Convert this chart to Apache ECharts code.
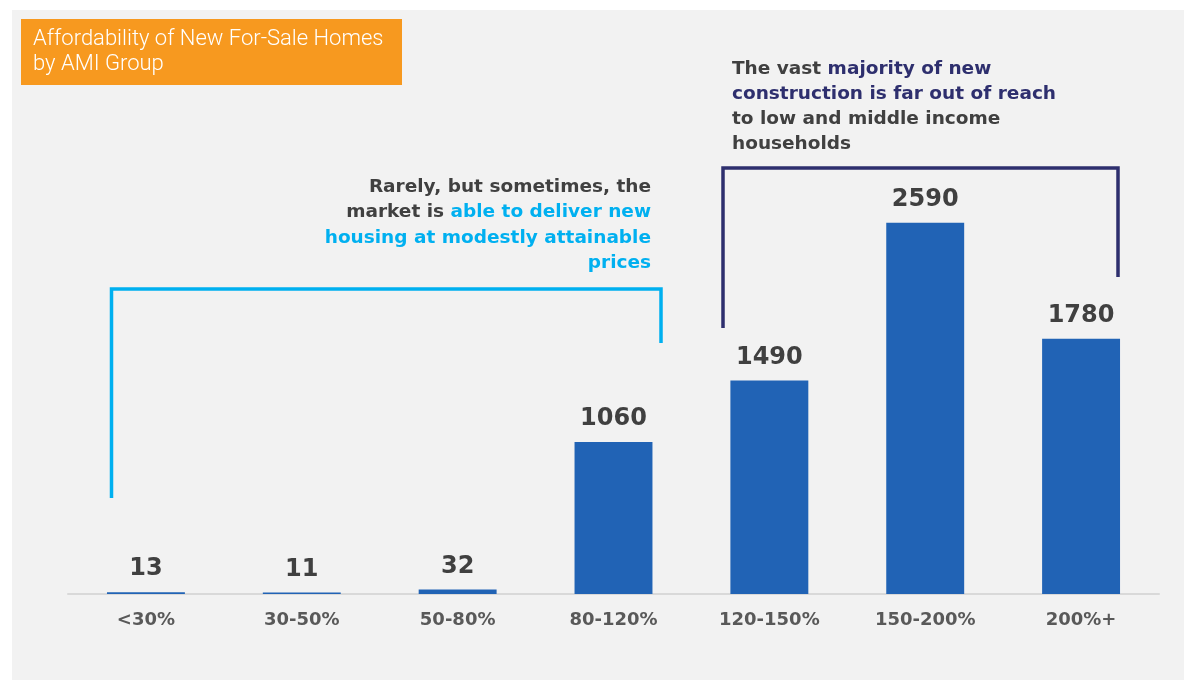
<!DOCTYPE html>
<html>
<head>
<meta charset="utf-8">
<script src="https://cdn.jsdelivr.net/npm/echarts@6/dist/echarts.min.js"></script>
<style>
html,body{margin:0;padding:0;background:#ffffff;}
#chart{position:absolute;left:0;top:0;width:1184px;height:680px;}
</style>
</head>
<body>
<div id="chart"></div>
<script>
const categories = ['<30%', '30-50%', '50-80%', '80-120%', '120-150%', '150-200%', '200%+'];
const homes = [13, 11, 32, 1060, 1490, 2590, 1780];
const titleLines = ['Affordability of New For-Sale Homes', 'by AMI Group'];

const FONT = '"DejaVu Sans", Inter, sans-serif';
const chart = echarts.init(document.getElementById('chart'), null, {renderer: 'canvas'});

const option = {
  backgroundColor: '#ffffff',
  animation: false,
  grid: {left: 68, right: 25, top: 164, bottom: 86},
  xAxis: {
    type: 'category',
    data: categories,
    axisLine: {lineStyle: {color: '#d9d9d9', width: 2}},
    axisTick: {show: false},
    axisLabel: {color: '#595959', fontSize: 18, fontWeight: 'bold', fontFamily: FONT, margin: 17}
  },
  yAxis: {
    type: 'value', min: 0, max: 3000, show: false, splitLine: {show: false}
  },
  series: [{
    type: 'bar',
    data: homes,
    barWidth: '50%',
    itemStyle: {color: '#2163B5'},
    label: {
      show: true, position: 'top', distance: 11,
      color: '#404040', fontSize: 24, fontWeight: 'bold', fontFamily: FONT
    }
  }],
  graphic: [
    {type: 'rect', z: -10, shape: {x: 12, y: 10, width: 1172, height: 670}, style: {fill: '#f2f2f2'}},
    {type: 'rect', shape: {x: 21, y: 19, width: 381, height: 66}, style: {fill: '#F7991F'}},
    {type: 'text', x: 33, y: 27, style: {
      text: titleLines.join('\n'), fill: '#ffffff', fontSize: 22, fontFamily: 'Roboto, sans-serif',
      fontWeight: 300, lineHeight: 25, align: 'left', verticalAlign: 'top'}},
    {type: 'text', x: 651, y: 174, style: {
      text: '{d|Rarely, but sometimes, the}\n{d|market is }{c|able to deliver new}\n{c|housing at modestly attainable}\n{c|prices}',
      align: 'right', verticalAlign: 'top', fontSize: 18.5, fontWeight: 'bold', fontFamily: FONT, lineHeight: 25.5,
      rich: {
        d: {fill: '#404040', fontSize: 18.5, fontWeight: 'bold', fontFamily: FONT, lineHeight: 25.5},
        c: {fill: '#00B0F0', fontSize: 18.5, fontWeight: 'bold', fontFamily: FONT, lineHeight: 25.5}
      }}},
    {type: 'text', x: 732, y: 57, style: {
      text: '{d|The vast }{n|majority of new}\n{n|construction is far out of reach}\n{d|to low and middle income}\n{d|households}',
      align: 'left', verticalAlign: 'top', fontSize: 18.5, fontWeight: 'bold', fontFamily: FONT, lineHeight: 25,
      rich: {
        d: {fill: '#404040', fontSize: 18.5, fontWeight: 'bold', fontFamily: FONT, lineHeight: 25},
        n: {fill: '#2E2F6E', fontSize: 18.5, fontWeight: 'bold', fontFamily: FONT, lineHeight: 25}
      }}},
    {type: 'polyline', shape: {points: [[111.5, 498], [111.5, 289], [661, 289], [661, 343]]},
      style: {stroke: '#00B0F0', lineWidth: 3.5, fill: null}},
    {type: 'polyline', shape: {points: [[723, 328], [723, 168], [1118, 168], [1118, 277]]},
      style: {stroke: '#2E2F6E', lineWidth: 3.5, fill: null}}
  ]
};
chart.setOption(option);
</script>
</body>
</html>
